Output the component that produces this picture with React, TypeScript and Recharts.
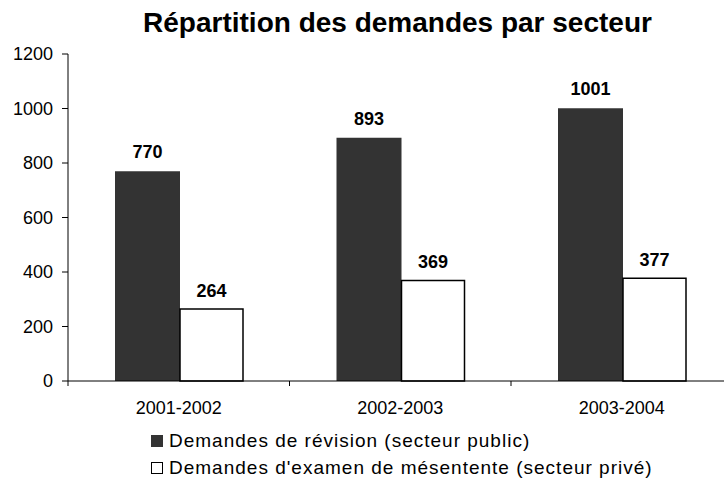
import React from "react";
import { BarChart, Bar, XAxis, YAxis, Legend, LabelList } from "recharts";

const periods = ["2001-2002", "2002-2003", "2003-2004"];
const publicValues = [770, 893, 1001];
const privateValues = [264, 369, 377];
const yTicks = [0, 200, 400, 600, 800, 1000, 1200];

const PUBLIC_LABEL = "Demandes de révision (secteur public)";
const PRIVATE_LABEL = "Demandes d'examen de mésentente (secteur privé)";

const data = periods.map((p, i) => ({
  period: p,
  publicReq: publicValues[i],
  privateReq: privateValues[i],
}));

const FONT = "'Liberation Sans', Arial, sans-serif";

function CategoryTick(props: any) {
  const { x, y, payload } = props;
  const half = payload && payload.offset != null ? payload.offset : 110.75;
  return (
    <g>
      <line x1={x - half} y1={y} x2={x - half} y2={y + 5} stroke="#000" strokeWidth={1} />
      <text x={x} y={y + 33} textAnchor="middle" fontSize={18} fill="#000" fontFamily={FONT}>
        {payload.value}
      </text>
    </g>
  );
}

function LegendBox() {
  const rows = [
    { label: PUBLIC_LABEL, fill: "#333333", border: "none" },
    { label: PRIVATE_LABEL, fill: "#ffffff", border: "1px solid #000" },
  ];
  return (
    <div style={{ fontFamily: FONT, fontSize: 19, letterSpacing: 1, color: "#000" }}>
      {rows.map((r) => (
        <div key={r.label} style={{ height: 27, lineHeight: "27px", display: "flex", alignItems: "center", whiteSpace: "nowrap" }}>
          <span
            style={{
              display: "inline-block",
              width: 12,
              height: 12,
              boxSizing: "border-box",
              background: r.fill,
              border: r.border,
              marginRight: 6,
            }}
          />
          <span>{r.label}</span>
        </div>
      ))}
    </div>
  );
}

export default function App() {
  return (
    <div
      style={{
        position: "absolute",
        left: 0,
        top: 0,
        width: 724,
        height: 479,
        overflow: "hidden",
        background: "#fff",
        fontFamily: FONT,
      }}
    >
      <div
        style={{
          position: "absolute",
          top: 9,
          left: 0,
          width: 795,
          textAlign: "center",
          fontSize: 28,
          lineHeight: "28px",
          fontWeight: "bold",
          color: "#000",
          whiteSpace: "nowrap",
        }}
      >
        Répartition des demandes par secteur
      </div>
      <BarChart
        width={740}
        height={479}
        data={data}
        margin={{ top: 54, right: 7.5, left: 0, bottom: 68 }}
        barGap={0}
      >
        <XAxis
          dataKey="period"
          height={30}
          tickLine={false}
          tickSize={0}
          tickMargin={0}
          axisLine={{ stroke: "#000" }}
          tick={<CategoryTick />}
          interval={0}
        />
        <YAxis
          width={68}
          domain={[0, 1200]}
          ticks={yTicks}
          tickSize={6}
          tickMargin={9}
          axisLine={{ stroke: "#000" }}
          tickLine={{ stroke: "#000" }}
          tick={{ fontSize: 18, fill: "#000", fontFamily: FONT }}
        />
        <Legend
          layout="vertical"
          align="center"
          verticalAlign="middle"
          content={<LegendBox />}
          wrapperStyle={{ position: "absolute", top: 427, left: 151, width: "auto", height: "auto" }}
        />
        <Bar dataKey="publicReq" name={PUBLIC_LABEL} fill="#333333" barSize={65} isAnimationActive={false}>
          <LabelList
            dataKey="publicReq"
            position="top"
            offset={13}
            fontSize={18}
            fontWeight="bold"
            fill="#000"
            fontFamily={FONT}
          />
        </Bar>
        <Bar
          dataKey="privateReq"
          name={PRIVATE_LABEL}
          fill="#ffffff"
          stroke="#000"
          strokeWidth={1.5}
          barSize={63}
          isAnimationActive={false}
        >
          <LabelList
            dataKey="privateReq"
            position="top"
            offset={12}
            fontSize={18}
            fontWeight="bold"
            fill="#000"
            fontFamily={FONT}
          />
        </Bar>
      </BarChart>
    </div>
  );
}
